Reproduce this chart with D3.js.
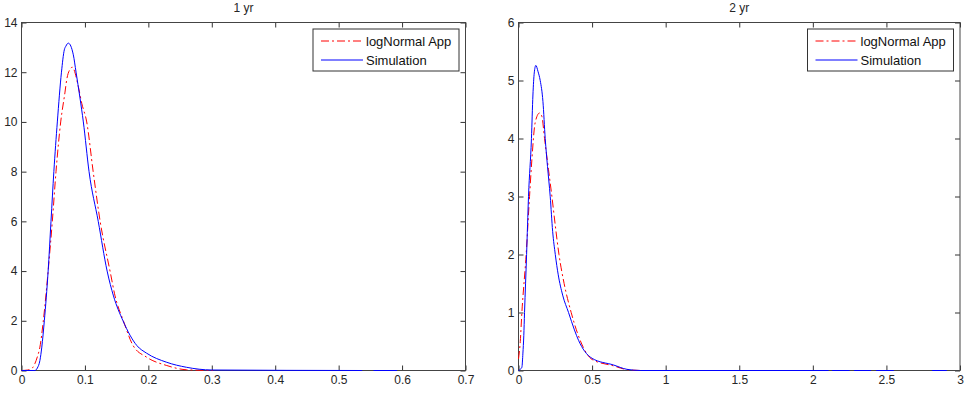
<!DOCTYPE html>
<html>
<head>
<meta charset="utf-8">
<script src="https://cdn.jsdelivr.net/npm/d3@7"></script>
<style>
  body { margin: 0; background: #fff; }
  svg { display: block; font-family: "Liberation Sans", Arial, sans-serif; }
  .tick text { fill: #262626; font-size: 12px; }
  .tick line { stroke: #333; }
</style>
</head>
<body>
<div id="chart"></div>
<script>
// 1 yr panel
const sim1X = [0, 0.010, 0.021, 0.025, 0.029, 0.032, 0.036, 0.042, 0.0465, 0.051, 0.0565, 0.063, 0.0675, 0.070, 0.0738, 0.0817, 0.086, 0.092, 0.0975, 0.1065, 0.121, 0.135, 0.145, 0.160, 0.182, 0.197, 0.229, 0.260, 0.300, 0.537, null, 0.555, 0.592];
const sim1Y = [0, 0, 0, 0.1, 0.4, 0.94, 2, 4, 6, 8, 10, 12, 12.9, 13.05, 13.17, 12.7, 12, 11, 10, 8, 6, 4, 3, 2, 1, 0.7, 0.33, 0.13, 0.02, 0, null, 0, 0];
const logn1X = [0, 0.010, 0.017, 0.021, 0.025, 0.029, 0.0344, 0.042, 0.0486, 0.0544, 0.0618, 0.0686, 0.0713, 0.0765, 0.080, 0.0896, 0.095, 0.1028, 0.113, 0.124, 0.1396, 0.1475, 0.1606, 0.176, 0.197, 0.229, 0.260, 0.302];
const logn1Y = [0, 0.02, 0.1, 0.27, 0.55, 0.94, 2, 4, 6, 8, 10, 11.2, 11.7, 12.12, 12.2, 11.42, 10.75, 10, 8, 6, 4, 3, 2, 1, 0.54, 0.2, 0.03, 0];
const xTicks1 = [0, 0.1, 0.2, 0.3, 0.4, 0.5, 0.6, 0.7];
const yTicks1 = [0, 2, 4, 6, 8, 10, 12, 14];

// 2 yr panel
const sim2X = [0, 0.012, 0.023, 0.030, 0.036, 0.041, 0.055, 0.068, 0.088, 0.098, 0.107, 0.118, 0.132, 0.1475, 0.166, 0.1815, 0.197, 0.2155, 0.232, 0.250, 0.270, 0.300, 0.340, 0.380, 0.408, 0.450, 0.500, 0.646, 0.737, 0.830, 2.107, null, 2.13, 2.25, null, 2.28, 2.396, null, 2.43, 2.55, null, 2.81, 2.91];
const sim2Y = [0, 0.02, 0.055, 0.3, 0.6, 1, 2, 3, 4, 4.75, 5.13, 5.26, 5.16, 5, 4.64, 4, 3.52, 3, 2.4, 2, 1.65, 1.3, 1, 0.7, 0.52, 0.33, 0.21, 0.095, 0.02, 0, 0, null, 0, 0, null, 0, 0, null, 0, 0, null, 0, 0];
const logn2X = [0, 0.012, 0.023, 0.052, 0.075, 0.091, 0.113, 0.143, 0.159, 0.177, 0.204, 0.227, 0.250, 0.275, 0.310, 0.358, 0.400, 0.440, 0.500, 0.646, 0.737, 0.830];
const logn2Y = [0.2, 0.5, 1, 2, 3, 3.64, 4.27, 4.44, 4.38, 4, 3.46, 3, 2.5, 2, 1.5, 1, 0.65, 0.4, 0.19, 0.08, 0.015, 0];
const xTicks2 = [0, 0.5, 1, 1.5, 2, 2.5, 3];
const yTicks2 = [0, 1, 2, 3, 4, 5, 6];

const seriesNames = ["logNormal App", "Simulation"];

const svg = d3.select("#chart").append("svg")
  .attr("width", 975)
  .attr("height", 396);

function zip(xs, ys) {
  return xs.map((x, i) => (x === null ? null : [x, ys[i]]));
}

function drawPanel(cfg) {
  let g = svg.append("g").attr("transform", "translate(" + cfg.left + "," + cfg.top + ")");
  let w = cfg.width, h = cfg.height;

  let x = d3.scaleLinear().domain(cfg.xDomain).range([0, w]);
  let y = d3.scaleLinear().domain(cfg.yDomain).range([h, 0]);

  // ticks inside, mirrored on top / right like matlab
  g.append("g").attr("transform", "translate(0," + h + ")")
    .call(d3.axisBottom(x).tickValues(cfg.xTicks).tickSizeInner(-5).tickSizeOuter(0).tickPadding(5).tickFormat(d => String(d)));
  g.append("g")
    .call(d3.axisLeft(y).tickValues(cfg.yTicks).tickSizeInner(-5).tickSizeOuter(0).tickPadding(4).tickFormat(d => String(d)));
  g.append("g")
    .call(d3.axisTop(x).tickValues(cfg.xTicks).tickSizeInner(-5).tickSizeOuter(0).tickFormat(""));
  g.append("g").attr("transform", "translate(" + w + ",0)")
    .call(d3.axisRight(y).tickValues(cfg.yTicks).tickSizeInner(-5).tickSizeOuter(0).tickFormat(""));
  g.selectAll(".domain").remove();

  g.append("rect")
    .attr("width", w).attr("height", h)
    .attr("fill", "none").attr("stroke", "#444");

  let line = d3.line()
    .defined(d => d !== null)
    .curve(d3.curveMonotoneX)
    .x(d => x(d[0]))
    .y(d => y(d[1]));

  g.append("path")
    .datum(zip(cfg.lognX, cfg.lognY))
    .attr("fill", "none")
    .attr("stroke", "#ff0000")
    .attr("stroke-width", 1)
    .attr("stroke-dasharray", "8,3,2,3")
    .attr("d", line);

  g.append("path")
    .datum(zip(cfg.simX, cfg.simY))
    .attr("fill", "none")
    .attr("stroke", "#0000ff")
    .attr("stroke-width", 1)
    .attr("d", line);

  g.append("text")
    .attr("x", w / 2)
    .attr("y", -11)
    .attr("text-anchor", "middle")
    .attr("font-size", 12)
    .attr("fill", "#262626")
    .text(cfg.title);

  // legend box
  let lg = g.append("g").attr("transform", "translate(" + (w - 152.5) + ",6.5)");
  lg.append("rect")
    .attr("width", 146).attr("height", 42)
    .attr("fill", "#fff").attr("stroke", "#333");
  let styles = [{ c: "#ff0000", dash: "8,3,2,3" }, { c: "#0000ff", dash: null }];
  seriesNames.forEach((name, i) => {
    let yy = 12 + i * 19;
    lg.append("line")
      .attr("x1", 8).attr("x2", 50)
      .attr("y1", yy).attr("y2", yy)
      .attr("stroke", styles[i].c)
      .attr("stroke-dasharray", styles[i].dash);
    lg.append("text")
      .attr("x", 53).attr("y", yy + 4.5)
      .attr("font-size", 13)
      .attr("fill", "#111")
      .text(name);
  });
}

drawPanel({
  left: 21.5, top: 22.5, width: 444, height: 348,
  xDomain: [0, 0.7], yDomain: [0, 14],
  xTicks: xTicks1, yTicks: yTicks1,
  simX: sim1X, simY: sim1Y, lognX: logn1X, lognY: logn1Y,
  title: "1 yr"
});

drawPanel({
  left: 518.5, top: 22.5, width: 441.5, height: 348,
  xDomain: [0, 3], yDomain: [0, 6],
  xTicks: xTicks2, yTicks: yTicks2,
  simX: sim2X, simY: sim2Y, lognX: logn2X, lognY: logn2Y,
  title: "2 yr"
});
</script>
</body>
</html>
